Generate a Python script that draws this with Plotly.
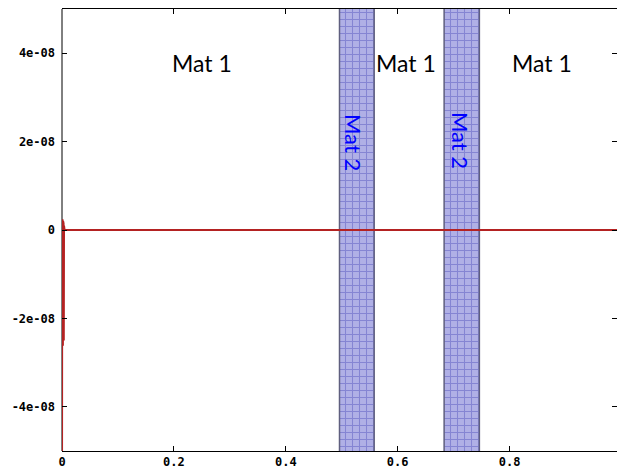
import plotly.graph_objects as go

# signal (x, y)
sig_x = [0.0, 0.0004, 0.0008, 0.0012, 0.0016, 0.0020, 0.0024, 0.0028, 0.0032, 0.0036, 0.0040, 0.0046,
         0.1, 0.2, 0.3, 0.4, 0.5, 0.6, 0.7, 0.8, 0.9, 1.0]
sig_y = [-6.0e-8, 0.23e-8, -2.65e-8, 0.22e-8, -2.62e-8, 0.2e-8, -2.6e-8, 0.15e-8, -2.5e-8, 0.1e-8, -2.3e-8, 0.0,
         0, 0, 0, 0, 0, 0, 0, 0, 0, 0]

# material 2 bands (x start, x end)
band_x0 = [0.496, 0.683]
band_x1 = [0.558, 0.746]

# labels
mat1_x = [0.251, 0.615, 0.858]
mat1_y = [3.78e-8, 3.78e-8, 3.78e-8]
mat2_x = [0.522, 0.712]
mat2_y = [1.99e-8, 2.03e-8]

xtick_vals = [0, 0.2, 0.4, 0.6, 0.8]
xtick_text = ["0", "0.2", "0.4", "0.6", "0.8"]
ytick_vals = [-4e-8, -2e-8, 0, 2e-8, 4e-8]
ytick_text = ["-4e-08", "-2e-08", "0", "2e-08", "4e-08"]

fig = go.Figure()
for a, b in zip(band_x0, band_x1):
    fig.add_trace(go.Scatter(
        x=[a, b, b, a, a], y=[-6e-8, -6e-8, 6e-8, 6e-8, -6e-8],
        mode="lines", fill="toself",
        line=dict(color="#5f5f7f", width=1.5),
        fillcolor="#acacE2",
        fillpattern=dict(shape="+", bgcolor="#b0b0e6", fgcolor="#5a5ac0", size=7, solidity=0.28),
        hoverinfo="skip", showlegend=False))

fig.add_trace(go.Scatter(x=sig_x, y=sig_y, mode="lines",
                         line=dict(color="#b42222", width=2), showlegend=False))

for x, y in zip(mat1_x, mat1_y):
    fig.add_annotation(x=x, y=y, text="Mat 1", showarrow=False,
                       font=dict(family="Lato", size=23, color="black"))
for x, y in zip(mat2_x, mat2_y):
    fig.add_annotation(x=x, y=y, text="Mat 2", showarrow=False, textangle=90,
                       font=dict(family="Lato", size=22, color="#0000ff"))

# left border line
fig.add_shape(type="line", xref="paper", yref="paper", x0=0, x1=0, y0=0, y1=1,
              line=dict(color="black", width=1), layer="below")

tickfont = dict(family="DejaVu Sans Mono", size=12, color="black", weight="bold")
fig.update_xaxes(range=[0, 0.992], tickvals=xtick_vals, ticktext=xtick_text,
                 ticks="inside", ticklen=5, tickcolor="black", mirror="ticks",
                 showline=True, linecolor="black", linewidth=1,
                 showgrid=False, zeroline=False, tickfont=tickfont)
fig.update_yaxes(range=[-5e-8, 5e-8], tickvals=ytick_vals, ticktext=ytick_text,
                 ticks="inside", ticklen=5, tickcolor="black", mirror="ticks",
                 ticklabelstandoff=6,
                 showline=False, showgrid=False, zeroline=False, tickfont=tickfont)
fig.update_layout(width=617, height=473, margin=dict(l=61.5, r=0, t=9, b=22),
                  plot_bgcolor="white", paper_bgcolor="white")
fig.write_html("out.html")
